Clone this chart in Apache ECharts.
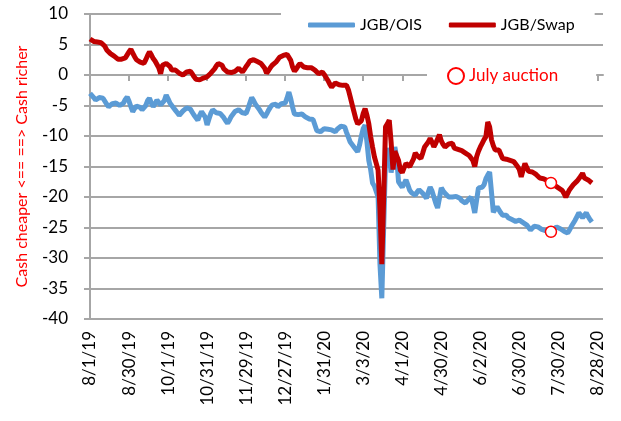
<!DOCTYPE html>
<html lang="en">
<head>
<meta charset="UTF-8">
<title>JGB/OIS and JGB/Swap spreads</title>
<script src="https://cdn.jsdelivr.net/npm/echarts@6/dist/echarts.min.js"></script>
<style>
    body { margin: 0; background: #fff; }
    #chart { width: 621px; height: 421px; }
</style>
</head>
<body>
<div id="chart"></div>
<script>
// one label every 21 trading days
var tickLabels = ['8/1/19', '8/30/19', '10/1/19', '10/31/19', '11/29/19', '12/27/19', '1/31/20',
    '3/3/20', '4/1/20', '4/30/20', '6/2/20', '6/30/20', '7/30/20', '8/28/20'];

var jgbOis = [
    -3.0, -3.3, -3.7, -4.1, -3.9, -3.7, -3.9, -3.8, -4.3, -4.8,
    -5.2, -4.9, -4.7, -4.8, -4.6, -4.9, -5.0, -5.2, -4.6, -4.0,
    -3.6, -4.3, -5.2, -6.0, -5.5, -5.1, -4.9, -5.3, -5.7, -6.0,
    -5.0, -4.2, -3.8, -4.6, -5.2, -4.7, -4.1, -4.5, -4.9, -5.2,
    -4.2, -3.3, -3.9, -4.6, -5.0, -5.4, -5.8, -6.2, -6.6, -6.3,
    -5.9, -5.6, -5.4, -5.2, -5.6, -6.1, -6.6, -7.0, -7.4, -6.6,
    -6.0, -5.7, -6.9, -8.2, -7.2, -6.3, -5.7, -5.9, -6.2, -6.0,
    -6.3, -6.6, -7.0, -7.5, -7.9, -7.4, -6.8, -6.4, -6.0, -5.8,
    -5.7, -5.9, -6.2, -6.0, -6.3, -5.5, -4.6, -3.7, -4.2, -4.8,
    -5.2, -5.6, -6.1, -6.5, -6.9, -6.4, -5.8, -5.3, -4.9, -4.6,
    -4.8, -5.2, -5.0, -4.7, -5.0, -4.6, -3.8, -2.8, -3.9, -5.3,
    -6.4, -6.2, -6.5, -6.6, -6.4, -6.7, -6.9, -7.0, -7.2, -7.0,
    -7.3, -8.2, -9.1, -9.0, -9.3, -9.1, -8.8, -9.0, -8.9, -9.2,
    -9.0, -9.3, -9.3, -8.9, -8.6, -8.4, -8.7, -8.5, -9.4, -10.2,
    -11.0, -11.3, -11.8, -12.2, -12.6, -11.5, -10.0, -8.8, -8.2, -11.0,
    -14.0, -15.5, -17.7, -18.2, -18.4, -20.0, -31.0, -36.6, -25.0, -14.0,
    -12.0, -13.0, -16.0, -14.0, -11.8, -13.5, -17.5, -17.2, -18.4, -17.8,
    -17.2, -18.0, -18.9, -19.3, -19.5, -19.7, -19.2, -18.8, -18.9, -19.4,
    -19.8, -20.2, -19.2, -18.4, -19.0, -20.0, -21.0, -21.8, -20.2, -18.5,
    -19.0, -19.4, -19.7, -20.0, -19.8, -20.0, -20.3, -19.9, -19.7, -20.2,
    -20.6, -20.8, -21.0, -20.6, -20.3, -20.0, -21.2, -22.6, -20.5, -18.5,
    -18.7, -18.4, -18.0, -17.0, -16.4, -15.9, -16.1, -22.5, -22.0, -21.6,
    -22.1, -22.6, -23.0, -23.2, -23.0, -23.4, -23.5, -23.7, -23.9, -24.0,
    -24.1, -23.8, -24.0, -24.2, -24.3, -24.6, -25.0, -25.4, -25.1, -24.8,
    -24.9, -24.9, -25.1, -25.3, -25.4, -25.5, -25.4, -25.6, -25.7, -25.4,
    -25.1, -24.9, -25.0, -25.2, -25.4, -25.6, -25.8, -25.9, -25.4, -24.8,
    -24.3, -23.8, -23.2, -22.6, -23.0, -23.4, -23.0, -22.6, -23.2, -23.7, -24.1
];

var jgbSwap = [
    5.9, 5.7, 5.5, 5.2, 5.4, 5.2, 5.3, 5.2, 4.7, 4.1,
    3.8, 3.5, 3.3, 3.1, 2.8, 2.6, 2.5, 2.6, 2.8, 2.8,
    3.3, 3.8, 4.2, 3.6, 3.0, 2.5, 2.3, 2.1, 2.0, 1.9,
    2.5, 3.2, 3.8, 3.3, 2.7, 2.3, 2.0, 1.2, 0.2, 1.6,
    1.5, 1.9, 2.1, 1.4, 0.8, 1.1, 0.8, 0.5, 0.3, 0.1,
    0.0, 0.3, 0.5, 0.8, 0.6, 0.2, -0.3, -0.7, -1.0, -0.8,
    -0.7, -0.5, -0.6, -0.3, 0.0, 0.3, 0.6, 1.0, 1.5, 1.9,
    2.1, 1.6, 1.0, 0.7, 0.5, 0.6, 0.4, 0.3, 0.6, 0.9,
    1.1, 0.8, 0.5, 0.9, 1.4, 1.8, 2.3, 2.6, 2.5, 2.3,
    2.2, 2.0, 1.9, 1.9, 1.1, 0.3, 0.7, 1.2, 1.6, 1.9,
    2.1, 2.5, 2.9, 3.1, 3.2, 3.3, 3.4, 3.5, 2.4, 1.3,
    0.6, 1.0, 1.5, 1.9, 1.6, 1.3, 1.4, 1.2, 1.0, 1.2,
    1.1, 0.8, 0.5, 0.2, 0.3, 0.5, 0.1, -0.4, -0.9, -1.5,
    -2.0, -1.7, -1.3, -1.4, -1.6, -1.5, -1.7, -1.6, -1.7, -2.4,
    -3.6, -4.8, -6.0, -7.2, -8.0, -8.2, -7.5, -6.3, -5.5, -6.6,
    -8.0, -10.1, -11.8, -13.4, -14.5, -15.6, -22.0, -31.0, -20.0, -8.5,
    -8.0, -7.4, -11.0, -15.5, -12.5, -12.3, -14.0, -15.6, -16.0, -15.2,
    -14.5, -14.8, -15.0, -15.0, -13.8, -12.8, -13.2, -13.5, -13.7, -12.8,
    -11.8, -11.4, -11.0, -10.4, -11.0, -11.8, -11.2, -10.5, -9.8, -10.8,
    -11.4, -11.8, -11.5, -11.3, -11.1, -11.2, -12.0, -12.1, -12.2, -12.3,
    -12.4, -12.6, -12.8, -13.0, -13.2, -13.4, -14.0, -15.0, -13.4, -12.5,
    -11.8, -11.2, -10.6, -10.1, -7.7, -8.5, -10.6, -11.6, -12.3, -12.0,
    -12.3, -12.6, -13.7, -13.5, -13.8, -13.7, -14.0, -14.2, -14.2, -14.6,
    -15.0, -15.5, -16.7, -15.6, -14.5, -15.2, -15.8, -16.1, -15.9, -15.9,
    -16.3, -16.6, -16.9, -17.0, -17.0, -17.1, -17.3, -17.5, -17.7, -17.9,
    -18.1, -18.3, -18.5, -18.7, -18.9, -19.4, -20.0, -19.4, -18.8, -18.4,
    -18.0, -17.7, -17.4, -17.2, -16.6, -16.1, -16.9, -17.0, -17.2, -17.4, -17.7
];

// July auction markers (trading-day index, value)
var auctionDay = [248, 248];
var auctionValue = [-17.7, -25.7];

// trading days on the axis (weekdays from 8/1/19)
var days = [];
var d = new Date(2019, 7, 1);
while (days.length < 277) {
    if (d.getDay() !== 0 && d.getDay() !== 6) {
        days.push((d.getMonth() + 1) + '/' + d.getDate() + '/' + (d.getFullYear() % 100));
    }
    d.setDate(d.getDate() + 1);
}

var auctionPts = auctionDay.map(function (x, i) { return [x, auctionValue[i]]; });
var everyTick = function (i) { return i % 21 === 0; };
var FONT = 'Lato';
var GRAY = '#A6A6A6';

var chart = echarts.init(document.getElementById('chart'), null, { renderer: 'canvas' });
chart.setOption({
    animation: false,
    textStyle: { fontFamily: FONT },
    grid: { left: 90, right: 18, top: 14, bottom: 102, containLabel: false },
    legend: [{
        data: [
            { name: 'JGB/OIS', icon: 'roundRect', itemStyle: { color: '#5B9BD5' } },
            { name: 'JGB/Swap', icon: 'roundRect', itemStyle: { color: '#C00000' } }
        ],
        left: 281, top: 8,
        padding: [9, 20, 9, 27],
        backgroundColor: '#fff',
        itemWidth: 47, itemHeight: 5, itemGap: 27,
        selectedMode: false,
        textStyle: { fontFamily: FONT, fontSize: 16, color: '#000' },
        z: 20
    }, {
        data: ['July auction'],
        left: 427, top: 62,
        padding: [5, 38, 5, 20],
        backgroundColor: '#fff',
        itemWidth: 16, itemHeight: 16,
        selectedMode: false,
        textStyle: { fontFamily: FONT, fontSize: 17, color: '#FF0000' },
        z: 20
    }],
    xAxis: [{
        type: 'category',
        data: days,
        boundaryGap: false,
        position: 'bottom',
        axisLine: { onZero: true, lineStyle: { color: GRAY, width: 2 } },
        axisTick: { interval: everyTick, length: 6, lineStyle: { color: GRAY, width: 2 } },
        axisLabel: { show: false },
        splitLine: { show: false }
    }, {
        type: 'category',
        data: days,
        boundaryGap: false,
        position: 'bottom',
        axisLine: { show: false, onZero: false },
        axisTick: { show: false },
        axisLabel: {
            interval: everyTick,
            rotate: 90,
            margin: 12,
            fontFamily: FONT,
            fontSize: 17,
            color: '#000',
            formatter: function (v, i) { return tickLabels[i / 21]; }
        },
        splitLine: { show: false }
    }],
    yAxis: {
        type: 'value',
        min: -40, max: 10, interval: 5,
        name: 'Cash cheaper <== ==> Cash richer',
        nameLocation: 'middle',
        nameGap: 60,
        nameTextStyle: { color: '#FF0000', fontFamily: FONT, fontSize: 16 },
        axisLine: { show: true, lineStyle: { color: GRAY, width: 2 } },
        axisTick: { show: true, length: 6, lineStyle: { color: GRAY, width: 2 } },
        axisLabel: { margin: 22, fontFamily: FONT, fontSize: 17, color: '#000' },
        splitLine: { lineStyle: { color: GRAY, width: 2 } }
    },
    series: [{
        name: 'JGB/OIS',
        type: 'line',
        data: jgbOis,
        symbol: 'none',
        lineStyle: { color: '#5B9BD5', width: 5 },
        itemStyle: { color: '#5B9BD5' }
    }, {
        name: 'JGB/Swap',
        type: 'line',
        data: jgbSwap,
        symbol: 'none',
        lineStyle: { color: '#C00000', width: 5 },
        itemStyle: { color: '#C00000' }
    }, {
        name: 'July auction',
        type: 'scatter',
        data: auctionPts,
        symbol: 'circle',
        symbolSize: 11,
        itemStyle: { color: '#fff', borderColor: '#FF0000', borderWidth: 1.5, opacity: 1 },
        z: 5
    }]
});
</script>
</body>
</html>
